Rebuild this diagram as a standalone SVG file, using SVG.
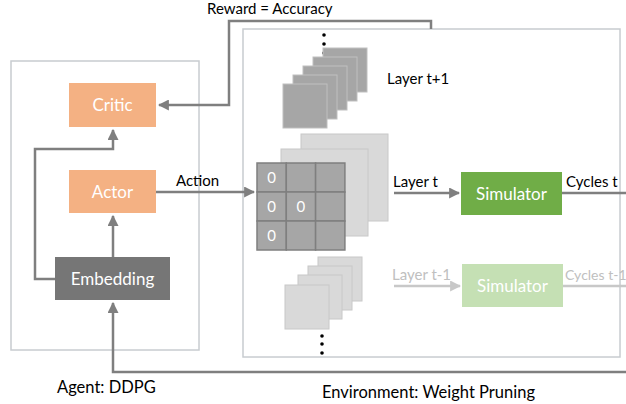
<svg xmlns="http://www.w3.org/2000/svg" width="626" height="404" viewBox="0 0 626 404">
<style>
text{font-family:Lato,"Open Sans","Liberation Sans",sans-serif;font-size:15px;fill:#000}
.w{fill:#fff;text-anchor:middle;font-size:17px}
.lt{fill:#c0c0c0}
.big{font-size:16.5px}
.frame{fill:#fff;stroke:#c8ccd0;stroke-width:1.5}
.c{fill:none;stroke:#7f7f7f;stroke-width:2.5}
.cl{fill:none;stroke:#c8c8c8;stroke-width:2.5}
.dk{fill:#a6a6a6;stroke:#bfbfbf;stroke-width:1}
.lg{fill:#d9d9d9;stroke:#c8c8c8;stroke-width:1}
.cell{fill:#a6a6a6;stroke:#7f7f7f;stroke-width:1.5}
.z{fill:#fff;font-size:15px;text-anchor:middle}
</style>
<defs>
<marker id="ah" viewBox="0 0 10 10" refX="9" refY="5" markerWidth="4.4" markerHeight="4.4" orient="auto"><path d="M0,0 L10,5 L0,10 z" fill="#7f7f7f"/></marker>
<marker id="ahl" viewBox="0 0 10 10" refX="9" refY="5" markerWidth="4.4" markerHeight="4.4" orient="auto"><path d="M0,0 L10,5 L0,10 z" fill="#c8c8c8"/></marker>
</defs>
<g id="agent-frame"><rect class="frame" x="11" y="61" width="188" height="289"/></g>
<g id="env-frame"><rect class="frame" x="243" y="29" width="377" height="328"/></g>
<g id="connectors">
<path class="c" d="M431,29 V21 H229 V105 H159" marker-end="url(#ah)"/>
<path class="c" d="M55,279 H35 V149 H113 V130" marker-end="url(#ah)"/>
<path class="c" d="M113,257 V216" marker-end="url(#ah)"/>
<path class="c" d="M156,192 H254" marker-end="url(#ah)"/>
<path class="c" d="M626,372 H113 V303" marker-end="url(#ah)"/>
<path class="c" d="M394,193 H459" marker-end="url(#ah)"/>
<path class="c" d="M562,193 H626"/>
<path class="cl" d="M394,286 H460" marker-end="url(#ahl)"/>
<path class="cl" d="M563,286 H626"/>
</g>
<g id="critic"><rect x="69" y="83" width="87" height="44" fill="#f4b183"/><text class="w" x="112.5" y="111">Critic</text></g>
<g id="actor"><rect x="69" y="170" width="87" height="43" fill="#f4b183"/><text class="w" x="112.5" y="198">Actor</text></g>
<g id="embedding"><rect x="55" y="257" width="115" height="43" fill="#767676"/><text class="w" x="112.5" y="285">Embedding</text></g>
<g id="layer-t-plus-1">
<circle cx="324" cy="35" r="1.8" fill="#000"/><circle cx="324" cy="44" r="1.8" fill="#000"/><circle cx="324" cy="53" r="1.8" fill="#000"/>
<rect class="dk" x="323" y="48" width="44" height="44"/>
<rect class="dk" x="313" y="57" width="44" height="44"/>
<rect class="dk" x="303" y="66" width="44" height="44"/>
<rect class="dk" x="293" y="75" width="44" height="44"/>
<rect class="dk" x="283" y="84" width="44" height="44"/>
<text x="387" y="84">Layer t+1</text>
</g>
<g id="layer-t">
<rect class="lg" x="301" y="134" width="87" height="87"/>
<rect class="lg" x="281" y="149" width="87" height="87"/>
<rect class="cell" x="257" y="163" width="29.3" height="29"/>
<rect class="cell" x="286.3" y="163" width="29.3" height="29"/>
<rect class="cell" x="315.6" y="163" width="29.3" height="29"/>
<rect class="cell" x="257" y="192" width="29.3" height="29"/>
<rect class="cell" x="286.3" y="192" width="29.3" height="29"/>
<rect class="cell" x="315.6" y="192" width="29.3" height="29"/>
<rect class="cell" x="257" y="221" width="29.3" height="29"/>
<rect class="cell" x="286.3" y="221" width="29.3" height="29"/>
<rect class="cell" x="315.6" y="221" width="29.3" height="29"/>
<text class="z" x="271.5" y="183">0</text>
<text class="z" x="271.5" y="212">0</text>
<text class="z" x="300.8" y="212">0</text>
<text class="z" x="271.5" y="241">0</text>
</g>
<g id="layer-t-minus-1">
<rect class="lg" x="318" y="257" width="44" height="44"/>
<rect class="lg" x="308" y="266" width="44" height="44"/>
<rect class="lg" x="298" y="275" width="44" height="44"/>
<rect class="lg" x="285" y="285" width="44" height="44"/>
<circle cx="322" cy="336" r="1.8" fill="#000"/><circle cx="322" cy="344" r="1.8" fill="#000"/><circle cx="322" cy="353" r="1.8" fill="#000"/>
</g>
<g id="simulator-t"><rect x="461" y="172" width="101" height="43" fill="#70ad47"/><text class="w" x="511.5" y="200">Simulator</text></g>
<g id="simulator-t-1"><rect x="462" y="264" width="101" height="43" fill="#c5e0b4"/><text class="w" x="512.5" y="292">Simulator</text></g>
<g id="labels">
<text x="207" y="14">Reward = Accuracy</text>
<text x="176" y="186">Action</text>
<text x="393" y="187">Layer t</text>
<text x="566" y="187">Cycles t</text>
<text class="lt" x="392" y="280">Layer t-1</text>
<text class="lt" x="565" y="280" style="font-size:14px">Cycles t-1</text>
<text class="big" x="57" y="393">Agent: DDPG</text>
<text class="big" x="322" y="398">Environment: Weight Pruning</text>
</g>
</svg>
